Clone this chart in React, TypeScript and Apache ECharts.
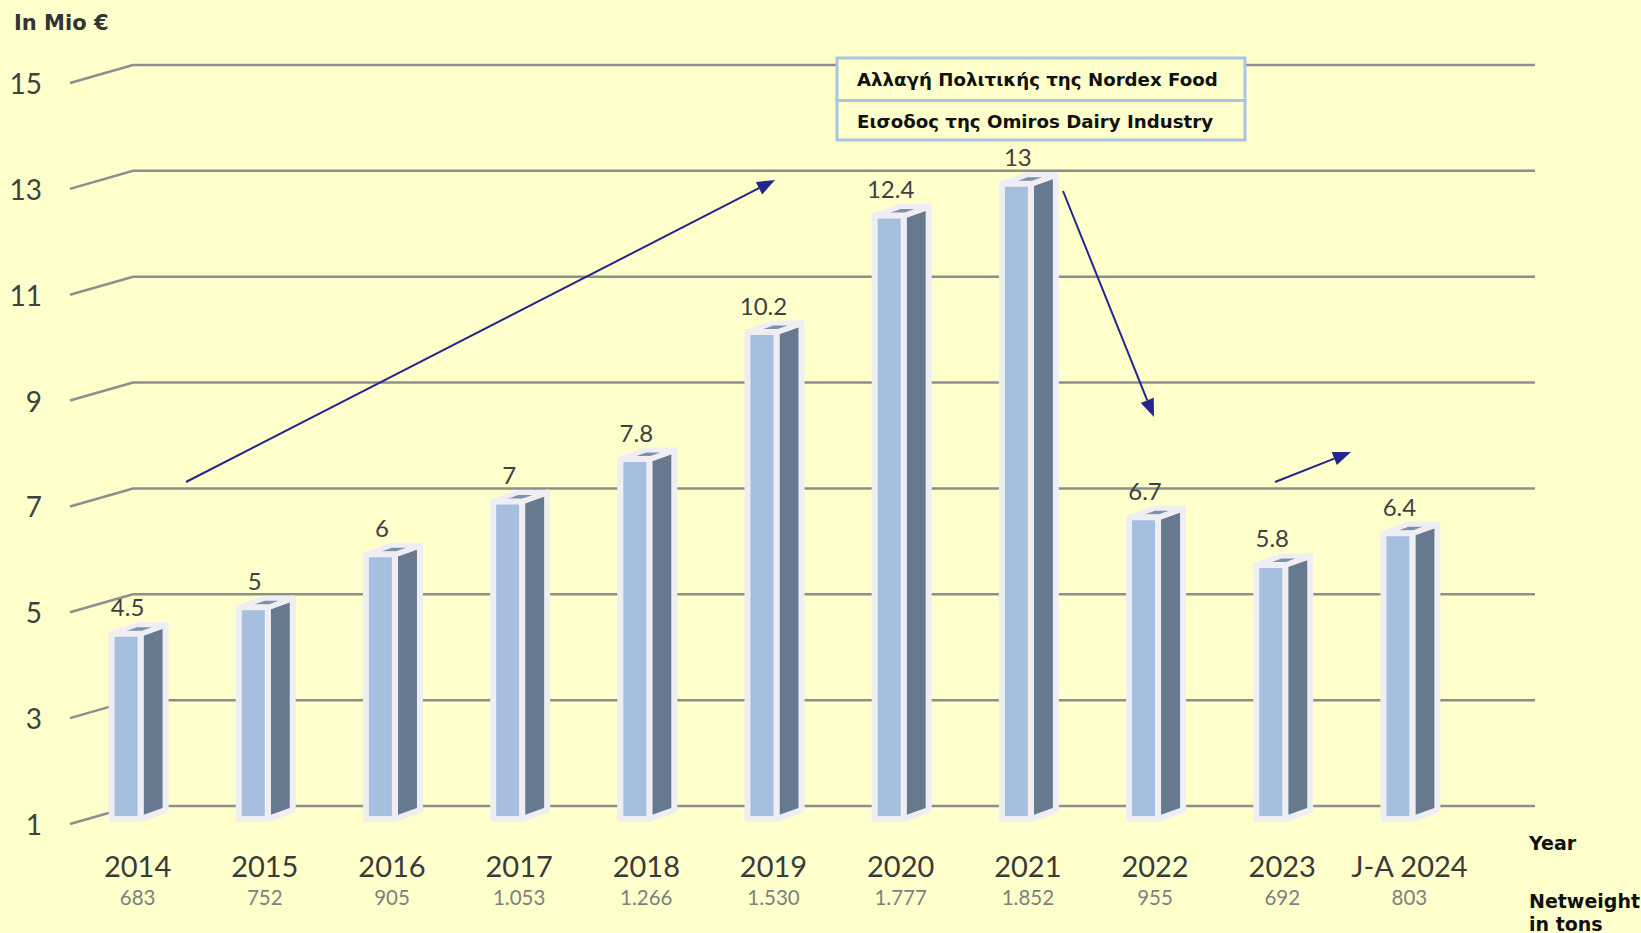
import React, { useEffect, useRef } from "react";
import * as echarts from "echarts";

const categories = ["2014", "2015", "2016", "2017", "2018", "2019", "2020", "2021", "2022", "2023", "J-A 2024"];
const values = [4.5, 5, 6, 7, 7.8, 10.2, 12.4, 13, 6.7, 5.8, 6.4];
const netweight = ["683", "752", "905", "1.053", "1.266", "1.530", "1.777", "1.852", "955", "692", "803"];
const yTicks = [1, 3, 5, 7, 9, 11, 13, 15];
const notes = ["Αλλαγή Πολιτικής της Nordex Food", "Εισοδος της Omiros Dairy Industry"];

const BG = "#ffffcc";
const NUM_FONT = "Lato, 'Open Sans', sans-serif";
const BOLD_FONT = "'DejaVu Sans', Verdana, sans-serif";
const ARROW = "#25258e";

function arrow(x1: number, y1: number, x2: number, y2: number) {
  const ang = Math.atan2(y2 - y1, x2 - x1);
  const L = 18, W = 7;
  const bx = x2 - L * Math.cos(ang), by = y2 - L * Math.sin(ang);
  const px = -Math.sin(ang) * W, py = Math.cos(ang) * W;
  return [
    { type: "line", z: 100, shape: { x1, y1, x2: bx, y2: by }, style: { stroke: ARROW, lineWidth: 2 } },
    { type: "polygon", z: 100, shape: { points: [[x2, y2], [bx + px, by + py], [bx - px, by - py]] }, style: { fill: ARROW } },
  ];
}

export default function App() {
  const ref = useRef<HTMLDivElement>(null);
  useEffect(() => {
    document.body.style.margin = "0";
    const chart = echarts.init(ref.current!, null, { renderer: "svg" });
    const option: any = {
      animation: false,
      backgroundColor: BG,
      grid: { left: 74, right: 168, top: 65, bottom: 127 },
      xAxis: {
        type: "category",
        data: categories,
        axisLine: { show: false },
        axisTick: { show: false },
        axisLabel: {
          interval: 0,
          margin: 41,
          formatter: (v: string, i: number) => `{y|${v}}\n{n|${netweight[i]}}`,
          rich: {
            y: { fontFamily: NUM_FONT, fontSize: 29, color: "#3a3a3a", lineHeight: 36, align: "center" },
            n: { fontFamily: NUM_FONT, fontSize: 20.5, color: "#7f7f7f", lineHeight: 28, align: "center" },
          },
        },
      },
      yAxis: {
        type: "value",
        min: 1,
        max: 15,
        splitLine: { show: false },
        axisLine: { show: false },
        axisTick: { show: false },
        axisLabel: {
          customValues: yTicks,
          margin: 32,
          formatter: (v: number) => `{a|${v}}`,
          rich: { a: { fontFamily: NUM_FONT, fontSize: 28, color: "#404040", padding: [36, 0, 0, 0] } },
        },
      },
      series: [
        {
          type: "custom",
          z: 1,
          clip: false,
          silent: true,
          data: yTicks.map((t) => [0, t]),
          renderItem: (params: any, api: any) => {
            const y = api.coord([0, api.value(1)])[1];
            const cs = params.coordSys;
            return {
              type: "polyline",
              shape: { points: [[cs.x - 4, y + 18], [cs.x + 59, y], [cs.x + cs.width + 62, y]] },
              style: { stroke: "#8e8e8e", lineWidth: 2.5, fill: null },
            };
          },
        },
        {
          type: "custom",
          z: 3,
          clip: false,
          data: values.map((v, i) => [i, v]),
          renderItem: (params: any, api: any) => {
            const i = api.value(0), v = api.value(1);
            const [cx, yv] = api.coord([i, v]);
            const y1 = api.coord([i, 1])[1];
            const t = yv + 13, b = y1 + 13;
            const dx = 25, dy = 9;
            const l = cx - 26, r = cx + 3;
            const stroke = "#efeff3";
            return {
              type: "group",
              children: [
                {
                  type: "polygon",
                  shape: { points: [[r, t], [r + dx, t - dy], [r + dx, b - dy], [r, b]] },
                  style: { fill: "#67798f", stroke, lineWidth: 6, lineJoin: "round" },
                },
                {
                  type: "polygon",
                  shape: { points: [[l, t], [r, t], [r + dx, t - dy], [l + dx, t - dy]] },
                  style: { fill: "#7d91ab", stroke, lineWidth: 5, lineJoin: "round" },
                },
                {
                  type: "polygon",
                  shape: { points: [[l, t], [r, t], [r, b], [l, b]] },
                  style: { fill: "#a6bfdf", stroke, lineWidth: 6, lineJoin: "round" },
                },
                {
                  type: "text",
                  style: {
                    text: String(v),
                    x: cx - 10,
                    y: yv - 14,
                    align: "center",
                    verticalAlign: "middle",
                    fontFamily: NUM_FONT,
                    fontSize: 24,
                    fill: "#404040",
                  },
                },
              ],
            };
          },
        },
      ],
      graphic: [
        {
          type: "text",
          z: 100,
          style: { text: "In Mio €", x: 14, y: 23, verticalAlign: "middle", fontFamily: BOLD_FONT, fontWeight: "bold", fontSize: 21, fill: "#333333" },
        },
        {
          type: "rect",
          z: 100,
          shape: { x: 837, y: 58, width: 408, height: 42.5 },
          style: { fill: BG, stroke: "#a9c4e4", lineWidth: 3 },
        },
        {
          type: "rect",
          z: 100,
          shape: { x: 837, y: 100.5, width: 408, height: 39.5 },
          style: { fill: BG, stroke: "#a9c4e4", lineWidth: 3 },
        },
        {
          type: "text",
          z: 101,
          style: { text: notes[0], x: 857, y: 79.5, verticalAlign: "middle", fontFamily: BOLD_FONT, fontWeight: "bold", fontSize: 18.2, fill: "#111111" },
        },
        {
          type: "text",
          z: 101,
          style: { text: notes[1], x: 857, y: 121.5, verticalAlign: "middle", fontFamily: BOLD_FONT, fontWeight: "bold", fontSize: 18.2, fill: "#111111" },
        },
        {
          type: "text",
          z: 100,
          style: { text: "Year", x: 1529, y: 843, verticalAlign: "middle", fontFamily: BOLD_FONT, fontWeight: "bold", fontSize: 19, fill: "#111111" },
        },
        {
          type: "text",
          z: 100,
          style: { text: "Netweight\nin tons", x: 1529, y: 889, verticalAlign: "top", lineHeight: 23, fontFamily: BOLD_FONT, fontWeight: "bold", fontSize: 19, fill: "#111111" },
        },
        ...arrow(186, 482, 775, 180),
        ...arrow(1063, 191, 1154, 417),
        ...arrow(1275, 482, 1351, 452),
      ],
    };
    chart.setOption(option);
    return () => chart.dispose();
  }, []);
  return <div ref={ref} style={{ width: 1641, height: 933, background: BG }} />;
}
